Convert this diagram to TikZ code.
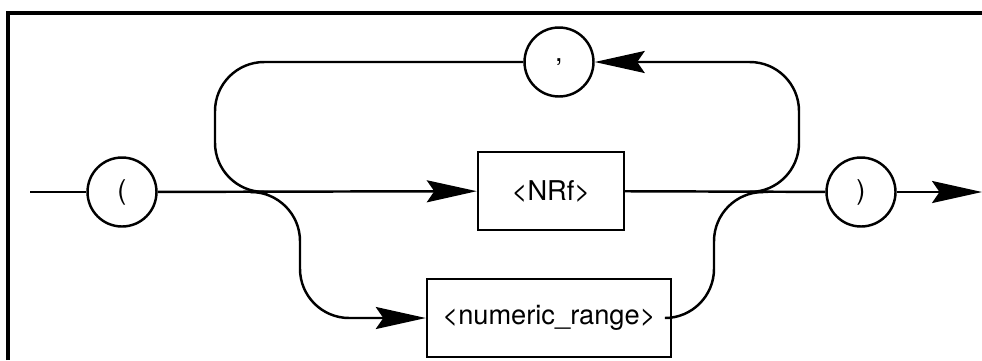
\documentclass[tikz,border=0pt]{standalone}
\usepackage{fontspec}
\setmainfont{TeX Gyre Heros}
\usetikzlibrary{arrows.meta}

\begin{document}
\begin{tikzpicture}[x=0.02cm, y=-0.02cm, line width=1.4pt,
    every node/.style={font=\fontsize{15.5}{18}\selectfont},
    term/.style={circle, draw, minimum size=1.38cm, inner sep=0pt},
    nonterm/.style={rectangle, draw, minimum height=1.56cm, inner sep=0pt},
    arr/.style={-{Stealth[length=10mm, width=4.4mm, inset=1.5mm]}}]
    \useasboundingbox (0,0) rectangle (982,360);
    \draw[line width=2pt] (8,360) -- (8,13) -- (982,13);

    \node[term] at (122,192) (lpar) {(};
    \node[term] at (559,62) (comma) {,};
    \node[term] at (861,192) (rpar) {)};
    \node[nonterm, minimum width=2.92cm] at (551,191) (nrf) {<NRf>};
    \node[nonterm, minimum width=4.88cm] at (549,318) (range) {<numeric\_range>};

    \coordinate (in) at (30,192);
    \coordinate (out) at (982,192);
    \coordinate (llx) at (215,192);
    \coordinate (jl) at (250,192);
    \coordinate (bl) at (268,192);
    \coordinate (br) at (748,192);
    \coordinate (rx) at (714,192);
    \coordinate (jr) at (768,192);
    \coordinate (rlx) at (799,192);

    % main line
    \draw (in) -- (lpar);
    \draw[arr] (lpar) -- (nrf);
    \draw (nrf) -- (rpar);
    \draw[arr] (rpar) -- (out);

    % repeat loop through the comma
    \draw[arr, rounded corners=28] (jr) -- (rlx) |- (comma);
    \draw[rounded corners=28] (comma) -| (llx) -- (jl);

    % branch through the range
    \draw[arr, rounded corners=28] (bl) -- ++(32,0) |- (range);
    \draw[rounded corners=28] (range) -| (rx) -- (br);
\end{tikzpicture}
\end{document}
